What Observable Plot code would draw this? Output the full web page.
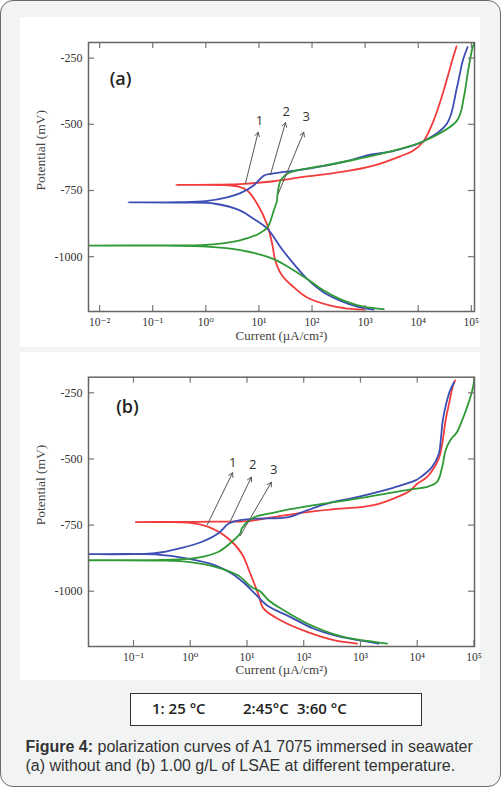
<!DOCTYPE html>
<html>
<head>
<meta charset="utf-8">
<script src="https://cdn.jsdelivr.net/npm/d3@7"></script>
<script src="https://cdn.jsdelivr.net/npm/@observablehq/plot@0.6"></script>
<style>
  html, body { margin: 0; padding: 0; background: #ffffff; }
  body { width: 501px; height: 787px; position: relative; overflow: hidden; font-family: "Liberation Sans", Arial, sans-serif; }
  #card { position: absolute; left: 0; top: 0; width: 501px; height: 787px; box-sizing: border-box;
          border: 1.5px solid #6a6a6a; border-radius: 13px; background: #f2f3f3; }
  .panel { position: absolute; left: 20px; width: 460px; background: #ffffff; }
  .panel svg { display: block; overflow: visible; }
  #pa { top: 17px; height: 330px; }
  #pb { top: 352px; height: 328px; }
  #legend { position: absolute; left: 130px; top: 693px; width: 292px; height: 33px; box-sizing: border-box;
            border: 1.5px solid #333; background: #ffffff; }
  #legend span { position: absolute; top: 4px; font-family: "Open Sans", sans-serif; font-weight: 600; font-size: 15px; color: #222; white-space: nowrap; }
  #caption { position: absolute; left: 25.5px; top: 738px; font-size: 16px; line-height: 18.5px; color: #333; white-space: nowrap; }
  #caption b { color: #333; }
</style>
</head>
<body>
<div id="card"></div>
<div class="panel" id="pa"></div>
<div class="panel" id="pb"></div>
<div id="legend"></div>
<div id="caption"><b>Figure 4:</b> polarization curves of A1 7075 immersed in seawater<br>(a) without and (b) 1.00 g/L of LSAE at different temperature.</div>
<script>
// ---- series / legend ----
const seriesNames = ["1: 25 °C", "2: 45 °C", "3: 60 °C"];
const legendLabels = ["1: 25 °C", "2:45°C", "3:60 °C"];
const seriesColors = ["#f23b3b", "#3c4db4", "#2f9a36"];

// ---- panel (a): without LSAE — current (µA/cm²) and potential (mV) along each curve ----
const aRedI = [933, 400, 224, 81, 45.7, 27.5, 20.4, 17.8, 14.1, 9.33, 6.03, 4.3, 2.5, 0.277, 1.5, 5.19, 19, 81, 339, 1445, 4571, 8128, 12589, 19498, 30200, 43652, 52481];
const aRedE = [-1200, -1194, -1185, -1154, -1116, -1072, -1015, -952, -876, -801, -750, -736, -730, -729, -728, -725, -715, -697, -681, -656, -621, -599, -564, -486, -372, -259, -206];
const aBlueI = [1445, 708, 339, 166, 81, 45.7, 25.7, 14.5, 7.94, 4.47, 1.5, 0.3, 0.0347, 0.3, 1.0, 2.51, 4.47, 7.94, 12.3, 16.6, 30, 81, 339, 1318, 3020, 12589, 34674, 53703, 69183, 85114];
const aBlueE = [-1200, -1189, -1166, -1135, -1084, -1028, -965, -895, -857, -826, -800, -796, -795, -794, -790, -776, -760, -731, -694, -687, -680, -668, -645, -614, -603, -564, -498, -360, -259, -208];
const aGreenI = [2239, 933, 339, 166, 81, 36.3, 19, 4.47, 1.0, 0.1, 0.0062, 0.1, 1.0, 4.2, 9.8, 14.5, 16.2, 19, 21.9, 22.4, 25.7, 33.9, 49, 166, 708, 3467, 12589, 53703, 72444, 85114, 102329, 112202];
const aGreenE = [-1198, -1189, -1160, -1128, -1084, -1040, -1009, -975, -962, -958, -958, -957, -955, -939, -914, -889, -870, -826, -788, -763, -712, -687, -675, -656, -631, -599, -564, -486, -397, -309, -221, -194];

// ---- panel (b): 1.00 g/L LSAE ----
const bRedI = [871, 339, 115, 38.9, 19.5, 15.8, 11.5, 8.1, 4.68, 2.09, 0.91, 0.3, 0.11, 0.5, 3, 10, 29.5, 115, 447, 1000, 1698, 3802, 7586, 10000, 14791, 23988, 27542, 31623, 36308, 43652, 46774];
const bRedE = [-1198, -1185, -1154, -1110, -1065, -1010, -935, -858, -801, -757, -741, -739, -739, -738, -737, -735, -720, -701, -688, -682, -675, -650, -619, -594, -569, -499, -443, -355, -292, -216, -203];
const bBlueI = [2089, 1698, 447, 148, 57.5, 22.4, 13.8, 9.1, 5.37, 2.75, 0.91, 0.24, 0.0162, 0.24, 0.71, 1.58, 3.09, 4.68, 6.17, 13.8, 53.7, 115, 257, 871, 3890, 9333, 11482, 18197, 23988, 26303, 28184, 32359, 38019, 44668];
const bBlueE = [-1198, -1194, -1173, -1141, -1097, -1053, -1009, -971, -933, -902, -877, -861, -860, -856, -836, -814, -782, -745, -735, -726, -720, -694, -669, -644, -608, -581, -569, -531, -481, -418, -355, -292, -241, -210];
const bGreenI = [2951, 1318, 447, 115, 42.7, 24, 17, 12, 6.9, 2.75, 1.0, 0.3, 0.0162, 0.47, 1.38, 3.09, 5.37, 7.6, 8.1, 12, 17, 24, 57.5, 224, 871, 3388, 7586, 14791, 22387, 27542, 31623, 38019, 50119, 61660, 75858, 93325, 102329];
const bGreenE = [-1198, -1188, -1170, -1122, -1070, -1034, -1000, -984, -940, -908, -890, -884, -883, -881, -873, -852, -814, -782, -763, -726, -713, -707, -690, -669, -650, -628, -615, -606, -587, -531, -468, -430, -399, -355, -304, -241, -196];

// ---- axes ----
const aXTicks = [0.01, 0.1, 1, 10, 100, 1000, 10000, 100000];
const bXTicks = [0.1, 1, 10, 100, 1000, 10000, 100000];
const yTicks = [-250, -500, -750, -1000];
const aXDomain = [0.00617, 114800];
const bXDomain = [0.0161, 102300];
const aYDomain = [-1207, -191];
const bYDomain = [-1209, -191];
const xLabel = "Current (µA/cm²)";
const yLabel = "Potential (mV)";

// ---- annotations ----
const arrowNames = ["1", "2", "3"];
const aArrowX1 = [5.58, 16.5, 23];
const aArrowY1 = [-723, -690, -763];
const aArrowX2 = [9.66, 31.6, 69.9];
const aArrowY2 = [-530, -494, -530];
const aLabelX = [10.2, 32.5, 77.5];
const aLabelY = [-488, -454, -473];
const bArrowX1 = [2.0, 5.0, 7.6];
const bArrowY1 = [-748, -739, -790];
const bArrowX2 = [5.58, 11.9, 26.9];
const bArrowY2 = [-552, -569, -588];
const bLabelX = [5.58, 12.6, 29.5];
const bLabelY = [-515, -522, -541];
const panelTags = ["(a)", "(b)"];
const tagX = [0.0248, 0.0783];
const tagY = [-328, -304];

const SUP = {"-": "⁻", "0": "⁰", "1": "¹", "2": "²", "3": "³", "4": "⁴", "5": "⁵", "6": "⁶", "7": "⁷", "8": "⁸", "9": "⁹"};
const powFormat = d => "10" + String(Math.round(Math.log10(d))).split("").map(c => SUP[c]).join("");

function buildRows(curves) {
  const rows = [];
  curves.forEach(([I, E], k) => I.forEach((v, i) => rows.push({series: seriesNames[k], I: v, E: E[i], order: i})));
  return rows;
}
function buildArrows(x1, y1, x2, y2, lx, ly) {
  return arrowNames.map((n, i) => ({n, x1: x1[i], y1: y1[i], x2: x2[i], y2: y2[i], lx: lx[i], ly: ly[i]}));
}

function panel(o) {
  const W = 460, mL = 68, mR = 6;
  const plotW = W - mL - mR;
  const plotH = o.height - o.marginTop - o.marginBottom;
  const tick = 6;
  const serif = "'Liberation Serif', 'DejaVu Serif', serif";
  const sans = "'Open Sans', 'Liberation Sans', sans-serif";
  return Plot.plot({
    width: W, height: o.height,
    marginLeft: mL, marginRight: mR, marginTop: o.marginTop, marginBottom: o.marginBottom,
    style: {background: "transparent", fontFamily: serif, fontSize: "12px", color: "#333", overflow: "visible"},
    x: {type: "log", domain: o.xDomain},
    y: {domain: o.yDomain},
    color: {domain: seriesNames, range: seriesColors},
    marks: [
      Plot.line(o.rows, {x: "I", y: "E", z: "series", stroke: "series", strokeWidth: 1.8, clip: true, curve: "catmull-rom"}),
      Plot.arrow(o.arrows, {x1: "x1", y1: "y1", x2: "x2", y2: "y2", stroke: "#555", strokeWidth: 1, headLength: 7}),
      Plot.text(o.arrows, {x: "lx", y: "ly", text: "n", fontFamily: sans, fontSize: 13, fill: "#333"}),
      Plot.text([o.tag], {x: () => o.tagX, y: () => o.tagY, text: d => d, fontFamily: sans, fontSize: 18, fontWeight: 600, fill: "#222"}),
      Plot.ruleX(o.xTicks, {stroke: "#777", strokeWidth: 1.2, insetTop: plotH - tick}),
      Plot.ruleX(o.xTicks, {stroke: "#777", strokeWidth: 1.2, insetBottom: plotH - tick}),
      Plot.ruleY(yTicks, {stroke: "#777", strokeWidth: 1.2, insetRight: plotW - tick}),
      Plot.ruleY(yTicks, {stroke: "#777", strokeWidth: 1.2, insetLeft: plotW - tick}),
      Plot.frame({stroke: "#666", strokeWidth: 1.5}),
      Plot.axisX(o.xTicks, {tickSize: 0, tickPadding: 6, tickFormat: powFormat, fontFamily: serif, fontSize: 11.5, fill: "#333", label: null}),
      Plot.axisY(yTicks, {tickSize: 0, tickPadding: 6, tickFormat: d => String(d), fontFamily: serif, fontSize: 12, fill: "#333", label: null}),
      Plot.text([xLabel], {frameAnchor: "bottom", dy: o.xLabelDy, text: d => d, fontFamily: serif, fontSize: 13, fill: "#444"}),
      Plot.text([yLabel], {frameAnchor: "left", dx: -48, dy: 13.5, rotate: -90, text: d => d, fontFamily: serif, fontSize: 13.5, fill: "#444"})
    ]
  });
}

document.getElementById("pa").appendChild(panel({
  height: 330, marginTop: 25, marginBottom: 36,
  xDomain: aXDomain, yDomain: aYDomain, xTicks: aXTicks,
  rows: buildRows([[aRedI, aRedE], [aBlueI, aBlueE], [aGreenI, aGreenE]]),
  arrows: buildArrows(aArrowX1, aArrowY1, aArrowX2, aArrowY2, aLabelX, aLabelY),
  tag: panelTags[0], tagX: tagX[0], tagY: tagY[0], xLabelDy: 28.5
}));
document.getElementById("pb").appendChild(panel({
  height: 328, marginTop: 24.7, marginBottom: 34,
  xDomain: bXDomain, yDomain: bYDomain, xTicks: bXTicks,
  rows: buildRows([[bRedI, bRedE], [bBlueI, bBlueE], [bGreenI, bGreenE]]),
  arrows: buildArrows(bArrowX1, bArrowY1, bArrowX2, bArrowY2, bLabelX, bLabelY),
  tag: panelTags[1], tagX: tagX[1], tagY: tagY[1], xLabelDy: 27.5
}));

// legend box entries
const legendLeft = [21, 112, 166];
const legend = document.getElementById("legend");
legendLabels.forEach((t, i) => {
  const s = document.createElement("span");
  s.textContent = t;
  s.style.left = legendLeft[i] + "px";
  legend.appendChild(s);
});
</script>
</body>
</html>
